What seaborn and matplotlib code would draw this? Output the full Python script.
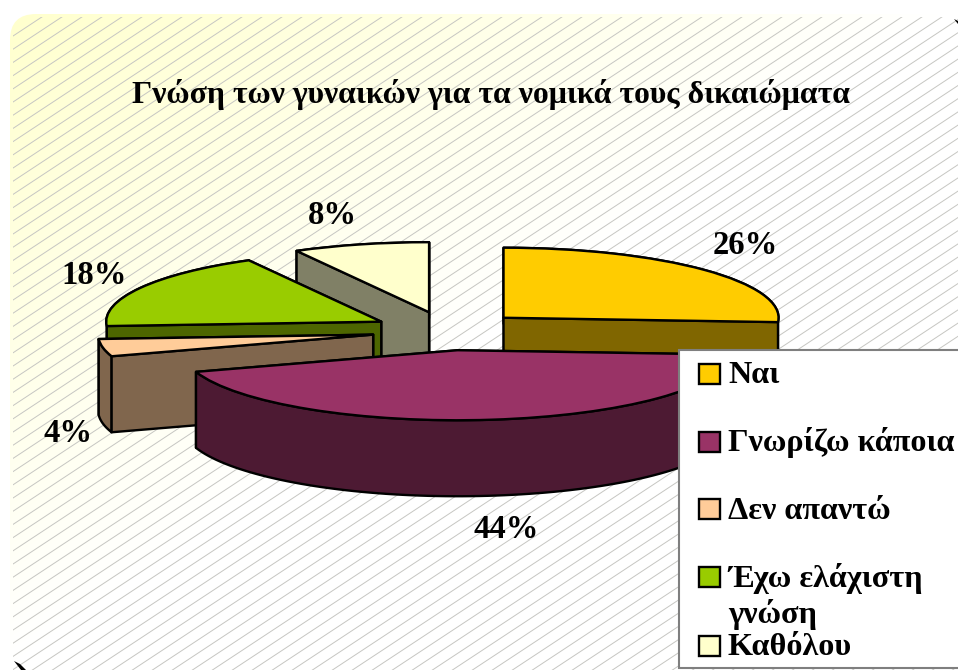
import numpy as np
import matplotlib
matplotlib.use("Agg")
import matplotlib.pyplot as plt
from matplotlib.collections import LineCollection
from matplotlib.colors import to_rgb
from matplotlib.patches import FancyBboxPatch, Polygon, Rectangle
from matplotlib.transforms import Affine2D
import seaborn as sns

# ---- data ----
title = "Γνώση των γυναικών για τα νομικά τους δικαιώματα"
categories = ["Ναι", "Γνωρίζω κάποια", "Δεν απαντώ", "Έχω ελάχιστη\nγνώση", "Καθόλου"]
values = [26, 44, 4, 18, 8]
colors = ["#FFCC00", "#993366", "#FFCC99", "#99CC00", "#FFFFCC"]

sns.set_theme(style="white")
plt.rcParams["font.family"] = ["Liberation Serif", "DejaVu Serif"]
plt.rcParams["font.weight"] = "bold"
plt.rcParams["text.color"] = "black"

W, H = 958, 670
fig = plt.figure(figsize=(W / 100, H / 100), dpi=100, facecolor="white")
ax = fig.add_axes([0, 0, 1, 1])

# ---- pie geometry (pixels) ----
CX, CY, RX, RY, DEPTH, EXPLODE = 448, 331, 275, 70, 76, 0.277
LW = 1.7
palette = sns.color_palette(colors)
side_palette = [tuple(c * 0.5 for c in to_rgb(col)) for col in palette]

wedges, _ = ax.pie(values, colors=palette, startangle=90, counterclock=False,
                   explode=[EXPLODE] * len(values), radius=1,
                   wedgeprops=dict(edgecolor="black", linewidth=LW, joinstyle="round"))
ax.set_aspect("auto")
ax.set_xlim(0, W)
ax.set_ylim(H, 0)
ax.set_axis_off()

to_px = Affine2D().scale(RX, -RY).translate(CX, CY)
unit = to_px + ax.transData


def side(points, color, z):
    pts = np.asarray(points)
    low = pts + [0, DEPTH]
    ax.add_patch(Polygon(np.vstack([pts, low[::-1]]), closed=True, facecolor=color,
                         edgecolor="black", linewidth=LW, joinstyle="round", zorder=z))


paint_order = [4, 3, 0, 2, 1]
for rank, i in enumerate(paint_order):
    w = wedges[i]
    z = 10 + rank * 2
    cx, cy = w.center
    t1, t2 = np.radians(w.theta1), np.radians(w.theta2)
    apex = to_px.transform([(cx, cy)])
    rim_t = np.linspace(t1, t2, 90)
    rim = to_px.transform(np.column_stack([cx + np.cos(rim_t), cy + np.sin(rim_t)]))
    edge1 = np.vstack([apex, rim[:1]])    # clockwise end of the slice
    edge2 = np.vstack([apex, rim[-1:]])   # clockwise start of the slice
    front, back = [], []
    (front if np.cos(t1) > 1e-6 else back).append(edge1)
    (front if np.cos(t2) < -1e-6 else back).append(edge2)
    for e in back:
        side(e, side_palette[i], z)
    side(rim, side_palette[i], z)
    for e in front:
        side(e, side_palette[i], z)
    w.set_transform(unit)
    w.set_zorder(z + 1)

# ---- panel: rounded, gradient, hatch ----
panel = FancyBboxPatch((10, 14), 985, 690, boxstyle="round,pad=0,rounding_size=26",
                       facecolor="none", edgecolor="none", transform=ax.transData)
ax.add_patch(panel)
yy, xx = np.mgrid[0:H, 0:W]
t = np.clip(xx / W + yy / H, 0, 1)[..., None]
c0, c1 = np.array(to_rgb("#FFFFCC")), np.array([1.0, 1.0, 1.0])
im = ax.imshow(c0 * (1 - t) + c1 * t, extent=(0, W, H, 0), aspect="auto", zorder=1,
               interpolation="bilinear")
im.set_clip_path(panel)
ax.set_xlim(0, W)
ax.set_ylim(H, 0)

SLOPE, STEP = 0.66, 13.2
segs = [[(0, b), (W + 20, b - SLOPE * (W + 20))] for b in np.arange(44.6, 1400, STEP)]
hatch = LineCollection(segs, colors="#C6C6C2", linewidths=0.7, zorder=2)
ax.add_collection(hatch)
hatch_clip = Rectangle((13, 17), W, H, transform=ax.transData)
hatch.set_clip_path(hatch_clip)

ax.add_patch(Polygon([(14, 661), (20, 664), (26, 670), (21, 670)], closed=True,
                     facecolor="black", edgecolor="none", zorder=3))
ax.add_patch(Polygon([(954, 19), (958, 21), (958, 24)], closed=True,
                     facecolor="black", edgecolor="none", zorder=3))

# ---- text ----
ax.text(491, 94, title, ha="center", va="center", fontsize=22.9, fontweight="bold", zorder=30)
pct_pos = [(745, 246), (506, 530), (68, 433), (94, 276), (332, 215)]
for v, (x, y) in zip(values, pct_pos):
    ax.text(x, y, f"{v}%", ha="center", va="center", fontsize=23.5, fontweight="bold", zorder=30)

# ---- legend ----
ax.add_patch(Rectangle((679, 350), 290, 318, facecolor="white", edgecolor="#7F7F7F",
                       linewidth=1.5, zorder=40))
key_tops = [364, 432, 499, 567, 636]
baselines = [383, 451, 519, 587, 655]
for col, lab, top, base in zip(palette, categories, key_tops, baselines):
    ax.add_patch(Rectangle((699, top), 21, 20, facecolor=col, edgecolor="black",
                           linewidth=LW, zorder=41))
    lines = lab.split("\n")
    for k, line in enumerate(lines):
        ax.text(728, base + 36 * k, line, ha="left", va="baseline", fontsize=23.2,
                fontweight="bold", zorder=42)

fig.savefig("out.png", dpi=100, facecolor="white")
